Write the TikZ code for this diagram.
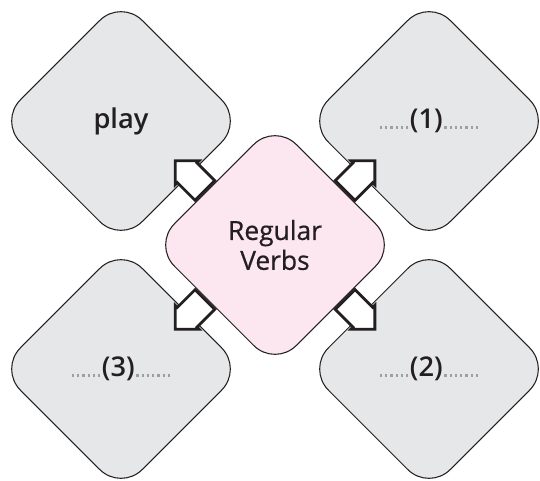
\documentclass[tikz,border=0pt]{standalone}
\usepackage{fontspec}
\setmainfont{Open Sans}
\newfontfamily\semibold{Open Sans Semibold}
\newfontfamily\hubfont{Open Sans}[FakeBold=0.5]
\usetikzlibrary{shapes.geometric, shapes.arrows, calc}
\definecolor{boxgray}{HTML}{E6E7E8}
\definecolor{verbpink}{HTML}{FCE6EF}
\definecolor{inkdark}{HTML}{231F20}
\definecolor{dotgray}{HTML}{9D9FA2}
\newcommand{\dotrule}[1]{{\color{dotgray}\xleaders\hbox to 3pt{\hss\rule{1.3pt}{1.3pt}\hss}\hskip #1}}

\begin{document}
\begin{tikzpicture}[x=0.02cm, y=0.02cm,
    box/.style={diamond, aspect=1, draw=inkdark, line width=0.6pt, rounded corners=0.6cm,
        minimum width=4.88cm, minimum height=4.88cm, inner sep=0pt, text=inkdark,
        font=\fontsize{15}{17}\selectfont\hubfont},
    word/.style={box, fill=boxgray, font=\fontsize{15.5}{17}\selectfont\semibold},
    hub/.style={box, fill=verbpink, align=center},
    blockarrow/.style={single arrow, draw=inkdark, fill=white, line width=1.6pt,
        minimum height=0.84cm, minimum width=0.62cm, single arrow head extend=0.06cm,
        single arrow tip angle=90, inner xsep=0pt, inner ysep=0.25cm}
]
\useasboundingbox (0,0) rectangle (540,480);
% outer diamonds
\node[word] (play) at (121,359) {play};
\node[word] (gap1) at (429,359) {\dotrule{18pt}(1)\dotrule{21pt}};
\node[word] (gap2) at (429,111) {\dotrule{18pt}(2)\dotrule{21pt}};
\node[word] (gap3) at (121,111) {\dotrule{18pt}(3)\dotrule{21pt}};
% centre
\node[hub] (verbs) at (275,235) {Regular\\Verbs};
% arrows out of the centre
\foreach \t/\a in {play/135, gap1/45, gap2/-45, gap3/-135}
  \node[blockarrow, rotate=\a] (arr\t) at ($(verbs)!0.52!(\t)$) {};
\end{tikzpicture}
\end{document}
